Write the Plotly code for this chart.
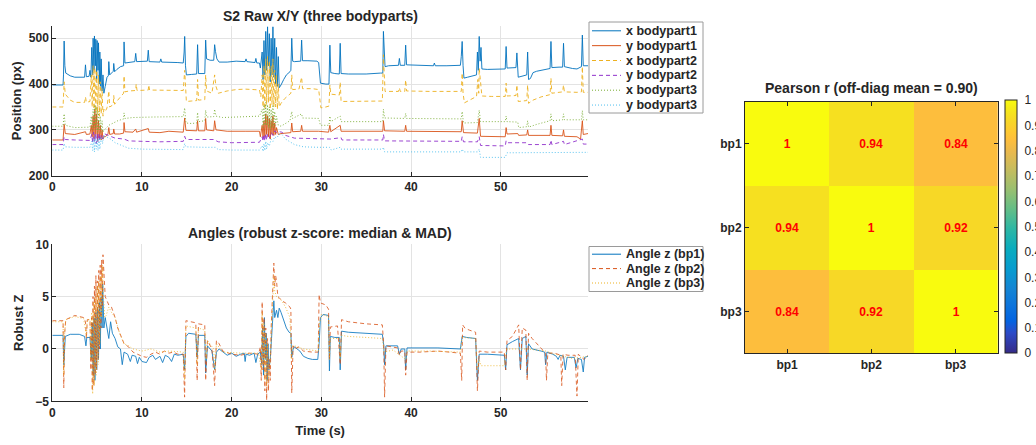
import plotly.graph_objects as go

FONT = "Liberation Sans, Arial, Helvetica, sans-serif"
INK = "#262626"
GRID = "#E3E3E3"

# ---------------- data: top panel (time s, position px) ----------------
X_BP1 = [(0, 398), (1.2, 398), (1.25, 420), (1.32, 494), (1.4, 440), (1.5, 424), (2.0, 418), (2.5, 415),
         (3.6, 415), (3.7, 442), (3.8, 416), (4.1, 417), (4.2, 430), (4.3, 415),
         (4.4, 480), (4.5, 420), (4.55, 500), (4.65, 430), (4.7, 505), (4.8, 440), (4.85, 498), (4.95, 410),
         (5.0, 495), (5.1, 430), (5.15, 490), (5.25, 400), (5.3, 470), (5.4, 395), (5.45, 455), (5.55, 385),
         (5.65, 420), (5.75, 380), (5.9, 395), (6.1, 415), (6.25, 418), (6.3, 449), (6.4, 420), (6.6, 424),
         (6.8, 428), (6.85, 445), (6.95, 427), (7.2, 432), (7.6, 438), (7.95, 440), (8.0, 492), (8.1, 446),
         (8.5, 447), (9.2, 449), (9.3, 467), (9.4, 449), (10.6, 450), (10.7, 474), (10.8, 449), (12.0, 448),
         (12.1, 455), (12.2, 448), (14.0, 447), (14.6, 446), (14.7, 470), (14.76, 504), (14.85, 440),
         (14.95, 420), (15.5, 421), (16.1, 422), (16.2, 486), (16.3, 423), (17.0, 423), (17.1, 496),
         (17.2, 455), (17.6, 452), (18.0, 452), (18.1, 486), (18.2, 471), (18.35, 455), (18.6, 448),
         (19.5, 448), (20.5, 450), (21.5, 449), (21.6, 455), (21.7, 449), (22.6, 447), (22.7, 456),
         (22.8, 446), (23.1, 446), (23.2, 435), (23.3, 450),
         (23.4, 470), (23.5, 410), (23.6, 495), (23.7, 420), (23.8, 515), (23.9, 430), (24.0, 525),
         (24.1, 440), (24.2, 510), (24.3, 405), (24.4, 500), (24.5, 420), (24.6, 525), (24.7, 415),
         (24.8, 500), (24.9, 400), (25.0, 480), (25.1, 395), (25.2, 460), (25.3, 392),
         (25.5, 398), (25.8, 410), (26.1, 420), (26.5, 427), (26.6, 430), (26.7, 500), (26.8, 450),
         (27.0, 449), (27.7, 450), (27.8, 496), (27.9, 451), (28.5, 451), (29.5, 450), (29.7, 447),
         (29.8, 420), (29.9, 402), (30.5, 400), (30.85, 400), (30.95, 485), (31.05, 425), (31.5, 423),
         (32.0, 422), (32.1, 489), (32.2, 423), (33.0, 422), (35.0, 422), (36.6, 424), (36.85, 424),
         (36.92, 515), (37.0, 460), (37.1, 438), (37.5, 440), (38.6, 441), (38.7, 456), (38.8, 441),
         (39.3, 441), (39.4, 485), (39.5, 442), (40.5, 441), (42.5, 440), (42.6, 446), (42.7, 440),
         (44.0, 440), (45.5, 441), (45.6, 460), (45.7, 493), (45.8, 440), (45.9, 413), (46.3, 415),
         (47.0, 418), (47.3, 420), (47.4, 470), (47.5, 430), (47.6, 504), (47.7, 450), (47.8, 480),
         (47.9, 433), (48.5, 432), (49.5, 432), (50.5, 433), (50.6, 482), (50.7, 435), (51.7, 436),
         (51.8, 468), (51.95, 415), (52.5, 418), (52.9, 420), (53.0, 470), (53.1, 410), (53.3, 412),
         (53.6, 425), (54.0, 428), (54.5, 430), (55.0, 433), (55.5, 434), (55.6, 493), (55.7, 436),
         (56.5, 437), (56.9, 437), (57.0, 489), (57.1, 438), (58.0, 434), (58.5, 433), (59.0, 438),
         (59.1, 507), (59.2, 440), (59.73, 440)]

Y_BP1 = [(0, 278), (1.2, 278), (1.32, 312), (1.45, 292), (2.5, 290), (3.7, 296), (3.8, 290), (4.2, 291),
         (4.35, 310), (4.45, 285), (4.55, 330), (4.65, 280), (4.75, 345), (4.85, 290), (4.95, 335),
         (5.05, 275), (5.15, 320), (5.25, 280), (5.35, 310), (5.45, 278), (5.55, 300), (5.65, 280),
         (5.75, 285), (5.9, 285), (6.2, 290), (6.3, 305), (6.4, 290), (6.8, 292), (6.85, 302), (6.95, 291),
         (7.5, 291), (7.95, 293), (8.0, 316), (8.1, 296), (9.0, 295), (9.3, 302), (9.4, 295), (10.7, 303),
         (10.8, 295), (12.0, 294), (13.0, 297), (14.6, 295), (14.76, 326), (14.9, 299), (16.1, 298),
         (16.2, 320), (16.3, 298), (17.0, 298), (17.1, 325), (17.2, 300), (18.0, 298), (18.1, 320),
         (18.25, 300), (19.5, 297), (21.5, 297), (23.1, 297), (23.2, 285),
         (23.4, 310), (23.5, 283), (23.6, 320), (23.7, 285), (23.8, 335), (23.9, 290), (24.0, 330),
         (24.1, 285), (24.2, 325), (24.3, 280), (24.4, 320), (24.5, 290), (24.6, 330), (24.7, 288),
         (24.8, 315), (24.9, 290), (25.0, 305), (25.2, 290),
         (25.5, 292), (26.6, 294), (26.7, 315), (26.8, 296), (27.7, 297), (27.8, 310), (27.9, 297),
         (29.7, 297), (30.8, 295), (30.95, 310), (31.05, 296), (32.1, 310), (32.2, 297), (36.85, 297),
         (36.92, 320), (37.05, 298), (39.3, 297), (39.4, 310), (39.5, 297), (45.6, 296), (45.7, 320),
         (45.85, 294), (47.4, 293), (47.6, 325), (47.75, 286), (50.5, 285), (50.6, 305), (50.7, 291),
         (51.9, 292), (52.0, 288), (52.9, 289), (53.0, 300), (53.1, 288), (55.5, 288), (55.6, 310),
         (55.7, 288), (56.9, 287), (57.0, 300), (57.1, 286), (58.5, 285), (58.9, 280), (59.1, 320),
         (59.2, 290), (59.73, 292)]

X_BP2 = [(0, 350), (1.2, 350), (1.32, 405), (1.45, 378), (2.0, 365), (2.5, 360), (3.6, 360), (3.7, 372),
         (3.8, 360), (4.2, 362),
         (4.35, 420), (4.45, 350), (4.55, 440), (4.65, 345), (4.75, 435), (4.85, 340), (4.95, 430),
         (5.05, 335), (5.15, 420), (5.25, 330), (5.35, 405), (5.45, 335), (5.55, 390), (5.65, 330),
         (5.75, 345), (5.9, 340), (6.1, 348), (6.3, 385), (6.4, 350), (6.8, 355), (6.85, 375), (6.95, 356),
         (7.3, 365), (7.7, 375), (7.95, 380), (8.0, 418), (8.1, 383), (8.6, 385), (9.3, 386), (9.35, 400),
         (9.45, 386), (10.7, 387), (10.75, 398), (10.85, 387), (12.0, 387), (14.0, 387), (14.6, 386),
         (14.76, 430), (14.85, 380), (14.95, 362), (15.5, 363), (16.1, 364), (16.2, 410), (16.3, 365),
         (17.0, 366), (17.1, 420), (17.2, 385), (17.8, 380), (18.1, 420), (18.25, 395), (18.5, 380),
         (19.5, 385), (20.5, 388), (21.5, 389), (22.5, 388), (23.1, 387), (23.25, 372),
         (23.4, 420), (23.5, 350), (23.6, 440), (23.7, 345), (23.8, 455), (23.9, 355), (24.0, 460),
         (24.1, 360), (24.2, 450), (24.3, 345), (24.4, 440), (24.5, 355), (24.6, 455), (24.7, 350),
         (24.8, 430), (24.9, 350), (25.0, 420), (25.1, 345), (25.2, 400), (25.3, 350),
         (25.5, 358), (25.9, 368), (26.4, 378), (26.6, 380), (26.7, 420), (26.8, 388), (27.5, 389),
         (27.8, 415), (27.9, 390), (29.0, 390), (29.7, 388), (29.8, 370), (29.95, 348), (30.5, 350),
         (30.85, 352), (30.95, 398), (31.05, 378), (32.0, 376), (32.1, 404), (32.2, 362), (34.0, 362),
         (36.8, 363), (36.92, 464), (37.0, 400), (37.1, 384), (38.6, 384), (38.7, 392), (38.8, 384),
         (39.3, 384), (39.4, 409), (39.5, 385), (42.0, 384), (45.6, 384), (45.7, 424), (45.8, 380),
         (45.95, 359), (46.5, 365), (47.3, 373), (47.45, 410), (47.55, 380), (47.6, 435), (47.75, 400),
         (47.9, 374), (49.0, 373), (50.5, 373), (50.6, 402), (50.7, 374), (51.7, 375), (51.8, 398),
         (51.95, 362), (52.9, 364), (53.0, 398), (53.1, 358), (53.6, 365), (54.5, 372), (55.5, 377),
         (55.6, 413), (55.7, 380), (56.9, 383), (57.0, 398), (57.1, 383), (58.5, 382), (59.0, 383),
         (59.1, 438), (59.2, 382), (59.73, 382)]

Y_BP2 = [(0, 268), (1.2, 268), (1.32, 285), (1.45, 279), (2.5, 278), (4.2, 277),
         (4.4, 290), (4.5, 272), (4.6, 295), (4.7, 275), (4.8, 293), (4.9, 270), (5.0, 290), (5.1, 275),
         (5.2, 292), (5.3, 276), (5.45, 288), (5.6, 280), (5.75, 292),
         (6.0, 290), (6.5, 285), (7.0, 282), (8.0, 280), (8.5, 276), (10.0, 275), (12.0, 274), (14.6, 275),
         (14.76, 286), (14.9, 279), (17.0, 280), (18.0, 279), (18.5, 274), (20.0, 272), (23.1, 273),
         (23.4, 285), (23.5, 275), (23.6, 290), (23.7, 276), (23.8, 292), (23.9, 278), (24.0, 290),
         (24.2, 282), (24.4, 295), (24.6, 288), (24.8, 298), (25.0, 294), (25.3, 296),
         (25.6, 295), (26.0, 288), (27.0, 282), (29.7, 280), (31.0, 280), (32.2, 283), (32.3, 278),
         (36.85, 278), (36.92, 290), (37.05, 276), (45.6, 275), (45.7, 285), (45.85, 274), (47.4, 274),
         (47.6, 285), (47.75, 266), (50.5, 265), (50.6, 276), (50.7, 272), (53.0, 272), (53.1, 268),
         (55.5, 268), (55.6, 278), (55.7, 268), (57.0, 275), (57.1, 268), (59.1, 280), (59.2, 269),
         (59.73, 269)]

X_BP3 = [(0, 308), (1.2, 308), (1.32, 335), (1.45, 310), (2.5, 305), (4.2, 306),
         (4.35, 330), (4.45, 300), (4.55, 345), (4.65, 305), (4.75, 355), (4.85, 300), (4.95, 350),
         (5.05, 295), (5.15, 340), (5.25, 300), (5.35, 330), (5.45, 295), (5.55, 320), (5.65, 295),
         (5.75, 300), (5.9, 302), (6.3, 310), (6.8, 315), (7.3, 320), (7.95, 324), (8.0, 337), (8.1, 325),
         (9.0, 327), (11.0, 328), (14.6, 329), (14.76, 348), (14.9, 315), (15.5, 314), (16.1, 315),
         (16.2, 338), (16.3, 318), (17.0, 320), (17.1, 343), (17.2, 328), (18.0, 329), (18.1, 345),
         (18.25, 330), (19.0, 327), (21.0, 329), (23.1, 330),
         (23.4, 345), (23.5, 305), (23.6, 355), (23.7, 310), (23.8, 360), (23.9, 310), (24.0, 355),
         (24.1, 305), (24.2, 350), (24.3, 300), (24.4, 345), (24.5, 305), (24.6, 355), (24.7, 305),
         (24.8, 340), (24.9, 310), (25.0, 330), (25.2, 310),
         (25.5, 308), (26.0, 315), (26.5, 320), (26.7, 340), (26.8, 325), (27.8, 335), (27.9, 326),
         (29.7, 325), (29.9, 310), (30.85, 310), (30.95, 330), (31.05, 318), (32.1, 330), (32.2, 318),
         (36.85, 318), (36.92, 345), (37.05, 326), (39.3, 325), (39.4, 336), (39.5, 325), (45.6, 324),
         (45.7, 340), (45.85, 315), (47.4, 316), (47.6, 343), (47.75, 318), (50.5, 318), (50.6, 330),
         (50.7, 318), (51.9, 317), (52.0, 305), (52.9, 307), (53.0, 320), (53.1, 306), (54.0, 312),
         (55.5, 320), (55.6, 335), (55.7, 320), (56.9, 322), (57.0, 335), (57.1, 322), (59.0, 322),
         (59.1, 342), (59.2, 322), (59.73, 322)]

Y_BP3 = [(0, 256), (1.2, 256), (1.32, 270), (1.45, 263), (2.5, 262), (4.2, 262),
         (4.4, 275), (4.5, 255), (4.6, 282), (4.7, 252), (4.8, 285), (4.9, 258), (5.0, 280), (5.1, 255),
         (5.2, 283), (5.3, 258), (5.45, 285), (5.6, 270), (5.75, 288),
         (6.0, 285), (6.5, 280), (7.0, 272), (8.0, 265), (8.5, 260), (10.0, 258), (14.6, 257),
         (14.76, 270), (14.9, 263), (17.0, 262), (18.2, 262), (18.5, 257), (20.0, 256), (23.1, 256),
         (23.4, 265), (23.5, 253), (23.6, 270), (23.7, 255), (23.8, 275), (23.9, 258), (24.0, 272),
         (24.2, 265), (24.4, 280), (24.6, 275), (24.8, 285), (25.0, 282), (25.3, 290),
         (25.6, 290), (26.0, 280), (27.0, 268), (28.0, 263), (29.7, 262), (30.9, 262), (31.1, 256),
         (32.1, 262), (32.2, 258), (36.85, 258), (36.92, 262), (37.05, 252), (45.6, 252), (45.7, 258),
         (45.85, 252), (47.4, 252), (47.6, 258), (47.75, 240), (50.5, 240), (50.6, 248), (50.7, 250),
         (59.73, 251)]

# ---------------- data: bottom panel (time s, robust z) ----------------
ANG_BP1 = [(0, 1.3), (1.2, 1.3), (1.28, -1.5), (1.36, 0.5), (1.45, 1.2), (2.0, 1.4), (3.0, 1.4), (3.6, 1.2),
           (3.75, 0.3), (3.85, 1.1), (4.2, 1.1),
           (4.35, -1.0), (4.45, 2.5), (4.55, -2.5), (4.65, 3.0), (4.75, -3.0), (4.85, 3.5), (4.95, -2.0),
           (5.05, 4.0), (5.15, -1.0), (5.25, 4.5), (5.35, 0.0), (5.45, 5.0), (5.55, 2.0), (5.62, 6.2),
           (5.75, 2.0), (5.9, 3.0), (6.1, 2.0), (6.3, 1.0), (6.5, 2.6), (6.7, 1.5), (7.0, 1.0), (7.3, 0.2),
           (7.6, 0.0), (7.8, -1.5), (8.0, -0.3), (8.4, -0.5), (8.7, -1.2), (8.9, -0.6), (9.3, -0.7),
           (9.5, -1.4), (9.7, -0.8), (10.0, -1.2), (10.5, -1.3), (10.8, -0.8), (11.2, -0.6), (11.5, -1.0),
           (12.0, -0.7), (12.3, -1.3), (12.6, -0.6), (13.0, -0.8), (13.3, -1.2), (13.6, -0.5), (14.0, -0.6),
           (14.6, -0.5), (14.75, -2.0), (14.9, 1.2), (15.2, 1.5), (16.0, 1.4), (16.15, -0.8), (16.3, 1.3),
           (17.0, 1.3), (17.1, -2.3), (17.3, 0.3), (17.8, -0.2), (18.1, -2.0), (18.3, -0.3), (18.6, 0.0),
           (19.0, -0.3), (19.5, -0.6), (20.0, -0.4), (20.5, -0.7), (21.0, -0.5), (21.4, -0.4), (21.5, -1.2),
           (21.6, -0.5), (22.0, -0.6), (22.5, -0.4), (22.7, -1.3), (22.9, -0.5), (23.2, -0.3),
           (23.35, -1.5), (23.45, 2.0), (23.55, -2.5), (23.65, 3.0), (23.75, -1.0), (23.85, 1.5),
           (23.95, -3.0), (24.05, 0.5), (24.15, -2.0), (24.3, -1.0), (24.45, 1.0), (24.6, 2.5), (24.7, 4.6),
           (24.8, 3.0), (24.9, 3.5), (25.0, 3.7), (25.15, 3.0), (25.3, 3.9), (25.5, 3.5),
           (25.8, 2.8), (26.1, 2.0), (26.4, 1.6), (26.6, 1.5), (26.7, -0.8), (26.85, 0.0), (27.0, 0.2),
           (27.3, 0.0), (27.6, -0.2), (28.0, -0.7), (28.5, -0.9), (29.0, -1.0), (29.6, -1.0), (29.75, 0.5),
           (29.9, 3.0), (30.2, 3.3), (30.8, 3.2), (30.9, -2.1), (31.0, 1.2), (31.5, 1.1), (32.0, 1.1),
           (32.1, -2.0), (32.25, 1.7), (33.0, 1.6), (35.0, 1.5), (36.8, 1.4), (36.95, 0.4), (37.05, -1.5),
           (37.2, 0.3), (38.5, 0.3), (38.7, -0.5), (38.9, 0.0), (39.3, 0.0), (39.4, -2.0), (39.55, 0.1),
           (41.0, 0.1), (43.0, 0.1), (45.5, 0.0), (45.7, 1.2), (46.2, 1.1), (47.2, 1.0), (47.4, -3.0),
           (47.6, -0.5), (48.5, -0.5), (50.4, -0.6), (50.55, -2.0), (50.7, 0.4), (51.3, 0.7), (52.0, 1.0),
           (52.2, -2.0), (52.4, 1.0), (52.8, 1.2), (52.95, -2.5), (53.1, 0.5), (53.5, 0.0), (54.5, -0.2),
           (54.9, -0.3), (55.0, -1.5), (55.15, -0.3), (55.8, -0.5), (56.2, -0.7), (56.4, -1.0), (56.6, -0.6),
           (57.0, -0.7), (57.2, -2.0), (57.4, -0.8), (58.2, -0.8), (58.4, -1.8), (58.6, -0.9), (59.0, -1.0),
           (59.2, -2.2), (59.35, -0.8), (59.73, -0.7)]

ANG_BP2 = [(0, 2.7), (1.2, 2.7), (1.28, -3.7), (1.38, 1.5), (1.5, 2.8), (2.5, 3.2), (3.5, 3.0), (3.7, 2.6),
           (3.8, 1.0), (3.9, 2.8), (4.2, 2.8),
           (4.3, -2.0), (4.38, 3.0), (4.46, -4.0), (4.54, 5.0), (4.62, -3.5), (4.7, 6.0), (4.78, -2.5),
           (4.86, 7.0), (4.94, -2.0), (5.02, 6.5), (5.1, -1.0), (5.18, 7.5), (5.26, 0.0), (5.34, 8.0),
           (5.42, 2.0), (5.5, 8.5), (5.58, 4.0), (5.65, 9.0), (5.75, 7.0),
           (5.9, 5.0), (6.1, 4.6), (6.3, 4.2), (6.6, 4.0), (6.8, 3.5), (7.0, 3.0), (7.3, 2.0), (7.6, 1.3),
           (8.0, 0.5), (8.5, 0.2), (9.0, -0.3), (9.5, -0.5), (10.0, -0.7), (10.5, -0.8), (11.0, -0.5),
           (11.5, -0.3), (12.0, -0.5), (12.5, -0.2), (13.0, -0.4), (13.5, -0.3), (14.0, -0.5), (14.6, -0.5),
           (14.75, -4.6), (14.9, 2.7), (15.5, 2.6), (16.0, 2.5), (16.15, -3.0), (16.3, 2.4), (17.0, 2.3),
           (17.1, -3.0), (17.3, 0.8), (17.8, 0.0), (18.1, -3.5), (18.3, 0.8), (18.6, 0.5), (19.0, -0.2),
           (20.0, -0.5), (21.0, -0.6), (22.0, -0.4), (23.0, -0.5), (23.2, 0.2),
           (23.3, -3.0), (23.4, 4.5), (23.5, -2.0), (23.6, 3.0), (23.7, -4.0), (23.8, 2.0), (23.9, -4.9),
           (24.0, 1.0), (24.1, -4.0), (24.2, -1.0), (24.3, -3.0), (24.4, 2.0), (24.5, 4.0), (24.6, 6.0),
           (24.7, 8.2), (24.8, 6.0), (24.9, 7.0), (25.0, 6.5), (25.15, 5.0), (25.3, 4.9),
           (25.6, 4.6), (26.0, 4.4), (26.5, 4.0), (26.6, 3.8), (26.7, -4.2), (26.85, 0.3), (27.0, 0.0),
           (27.5, 0.2), (28.0, -0.2), (29.0, -0.3), (29.65, -0.3), (29.75, 5.2), (29.9, 4.4), (30.5, 4.2),
           (30.8, 3.8), (30.9, -1.0), (31.0, 2.1), (31.8, 2.2), (32.1, -1.5), (32.25, 2.8), (33.0, 2.6),
           (35.0, 2.4), (36.8, 2.3), (36.95, 0.4), (37.05, -4.6), (37.2, 0.3), (38.0, 0.2), (38.5, 0.1),
           (38.7, -0.6), (38.9, -0.2), (39.3, -0.2), (39.4, -2.5), (39.55, -0.3), (41.0, -0.3), (43.0, -0.2),
           (45.5, -0.4), (45.65, -3.0), (45.75, 2.3), (46.0, 2.0), (46.5, 1.8), (47.2, 1.6), (47.4, -4.0),
           (47.6, -0.2), (48.5, -0.3), (50.4, -0.3), (50.55, -2.0), (50.7, 0.8), (51.3, 1.2), (52.0, 2.3),
           (52.2, -2.0), (52.4, 2.0), (52.8, 1.8), (52.95, -3.0), (53.1, 1.5), (53.5, 1.0), (54.0, 0.5),
           (54.5, 0.0), (55.0, -0.4), (55.1, -3.0), (55.25, -0.4), (56.0, -0.4), (56.7, -0.6), (56.8, -3.5),
           (56.95, -0.5), (57.5, -0.6), (58.3, -0.6), (58.5, -4.5), (58.65, -0.5), (59.0, -0.8), (59.3, -1.0),
           (59.73, -0.6)]

ANG_BP3 = [(0, 2.6), (1.2, 2.6), (1.28, -2.5), (1.38, 1.5), (1.5, 2.8), (2.5, 3.1), (3.5, 2.9), (3.8, 1.2),
           (3.9, 2.8), (4.2, 2.8),
           (4.3, -1.0), (4.4, 3.5), (4.5, -4.3), (4.6, 4.5), (4.7, -3.5), (4.8, 5.0), (4.9, -2.5), (5.0, 6.0),
           (5.1, -1.5), (5.2, 6.5), (5.3, 0.5), (5.4, 7.0), (5.5, 3.0), (5.6, 8.0), (5.7, 5.0),
           (5.85, 3.0), (6.0, 3.2), (6.3, 4.0), (6.6, 3.5), (7.0, 3.0), (7.5, 1.5), (8.0, 0.5), (8.5, 0.3),
           (9.0, 0.0), (10.0, -0.2), (11.0, 0.0), (12.0, -0.3), (13.0, -0.2), (14.6, -0.3), (14.75, -3.0),
           (14.9, 2.2), (16.0, 2.0), (16.15, -1.5), (16.3, 2.0), (17.0, 1.8), (17.15, -1.0), (17.3, 0.8),
           (18.0, 0.0), (18.1, -2.0), (18.3, 0.5), (19.0, -0.3), (21.0, -0.4), (23.0, -0.4),
           (23.3, -2.0), (23.4, 3.5), (23.5, -1.5), (23.6, 2.5), (23.7, -3.0), (23.8, 1.5), (23.9, -3.5),
           (24.0, 0.5), (24.1, -3.0), (24.3, -1.0), (24.5, 3.0), (24.6, 5.0), (24.7, 7.0), (24.8, 5.5),
           (25.0, 5.0), (25.3, 4.8),
           (25.6, 4.6), (26.0, 4.0), (26.5, 3.0), (26.65, -1.0), (26.8, 0.3), (27.0, 0.3), (28.0, 0.0),
           (29.65, -0.2), (29.8, 2.5), (30.0, 3.3), (30.8, 3.1), (30.9, -1.0), (31.0, 1.0), (32.0, 1.0),
           (32.1, -1.0), (32.25, 1.3), (33.0, 1.2), (35.0, 1.1), (36.8, 1.0), (37.0, -0.3), (38.0, -0.1),
           (39.4, -1.0), (39.55, -0.2), (42.0, -0.2), (45.5, -0.3), (45.7, 1.1), (47.2, 1.0), (47.4, -2.0),
           (47.6, -1.0), (47.8, -1.6), (50.4, -1.6), (50.55, -0.5), (50.7, 0.0), (53.0, 0.0), (55.0, -0.2),
           (56.0, -0.5), (57.0, -0.7), (58.0, -0.9), (59.0, -0.8), (59.73, -0.7)]

# ---------------- data: correlation matrix ----------------
BP_LABELS = ["bp1", "bp2", "bp3"]
PEARSON_R = [[1.00, 0.94, 0.84],
             [0.94, 1.00, 0.92],
             [0.84, 0.92, 1.00]]
OFFDIAG_MEAN = 0.90
CBAR_TICKS = [0, 0.1, 0.2, 0.3, 0.4, 0.5, 0.6, 0.7, 0.8, 0.9, 1]
TOP_XTICKS = [0, 10, 20, 30, 40, 50]
TOP_YTICKS = [200, 300, 400, 500]
BOT_YTICKS = [-5, 0, 5, 10]

PARULA = [[0.000, "rgb(53,42,135)"], [0.079, "rgb(44,74,199)"], [0.127, "rgb(3,99,225)"],
          [0.190, "rgb(13,117,220)"], [0.254, "rgb(20,133,212)"], [0.333, "rgb(7,156,207)"],
          [0.413, "rgb(10,172,190)"], [0.492, "rgb(46,183,164)"], [0.571, "rgb(101,190,134)"],
          [0.651, "rgb(156,191,111)"], [0.730, "rgb(200,188,93)"], [0.794, "rgb(233,185,78)"],
          [0.841, "rgb(253,190,61)"], [0.873, "rgb(254,200,50)"], [0.921, "rgb(247,216,38)"],
          [0.968, "rgb(245,235,24)"], [1.000, "rgb(249,251,14)"]]

W, H = 1036, 445
DASH = "4px,3px"
DOT = "1px,2px"

TOP_SERIES = [("x bodypart1", X_BP1, "#0072BD", "solid"),
              ("y bodypart1", Y_BP1, "#D95319", "solid"),
              ("x bodypart2", X_BP2, "#EDB120", DASH),
              ("y bodypart2", Y_BP2, "#9132CC", DASH),
              ("x bodypart3", X_BP3, "#77AC30", DOT),
              ("y bodypart3", Y_BP3, "#4DBEEE", DOT)]
BOT_SERIES = [("Angle z (bp1)", ANG_BP1, "#0072BD", "solid"),
              ("Angle z (bp2)", ANG_BP2, "#D95319", DASH),
              ("Angle z (bp3)", ANG_BP3, "#EDB120", DOT)]


def px_x(p):
    return p / W


def px_y(p):
    return 1 - p / H


fig = go.Figure()

for name, pts, color, dash in TOP_SERIES:
    fig.add_trace(go.Scatter(x=[p[0] for p in pts], y=[p[1] for p in pts], mode="lines", name=name,
                             line=dict(color=color, width=0.9, dash=dash), xaxis="x", yaxis="y",
                             showlegend=False))
for name, pts, color, dash in BOT_SERIES:
    fig.add_trace(go.Scatter(x=[p[0] for p in pts], y=[p[1] for p in pts], mode="lines", name=name,
                             line=dict(color=color, width=0.9, dash=dash), opacity=0.9,
                             xaxis="x2", yaxis="y2", showlegend=False))

fig.add_trace(go.Heatmap(
    z=PEARSON_R, x=BP_LABELS, y=BP_LABELS, zmin=0, zmax=1, colorscale=PARULA,
    text=[[f"{v:g}" for v in row] for row in PEARSON_R], texttemplate="%{text}",
    textfont=dict(family=FONT, size=12, color="#FF0000", weight="bold"),
    xaxis="x3", yaxis="y3", showlegend=False,
    colorbar=dict(x=px_x(1005), xanchor="left", xpad=0, ypad=0,
                  y=px_y(226.7), yanchor="middle", len=253.3 / H, lenmode="fraction",
                  thickness=12, thicknessmode="pixels", outlinewidth=1, outlinecolor=INK,
                  tickvals=CBAR_TICKS, ticktext=[f"{v:g}" for v in CBAR_TICKS],
                  ticks="outside", ticklen=5, tickcolor="rgba(0,0,0,0)",
                  tickfont=dict(family=FONT, size=12, color=INK))))

# ---- MATLAB-style legends (compact rows), drawn from the series specs ----
shapes = []
annotations = []


def draw_legend(series, box_top, box_bottom, row0, step):
    shapes.append(dict(type="rect", xref="paper", yref="paper", x0=px_x(589), x1=px_x(703),
                       y0=px_y(box_bottom), y1=px_y(box_top), line=dict(color="#9A9A9A", width=1),
                       fillcolor="white", layer="above"))
    for i, (name, _pts, color, dash) in enumerate(series):
        yy = px_y(row0 + i * step)
        shapes.append(dict(type="line", xref="paper", yref="paper", x0=px_x(592), x1=px_x(621),
                           y0=yy, y1=yy, line=dict(color=color, width=1, dash=dash), layer="above"))
        annotations.append(dict(text=name, x=px_x(624), y=yy, xref="paper", yref="paper",
                                showarrow=False, xanchor="left", yanchor="middle",
                                font=dict(family=FONT, size=12.5, color=INK, weight="bold")))


draw_legend(TOP_SERIES, 22, 113, 30.8, 14.85)
draw_legend(BOT_SERIES, 246.5, 291.5, 254.2, 14.4)

titlefont14 = dict(family=FONT, size=14, color=INK, weight="bold")
annotations += [
    dict(text="S2 Raw X/Y (three bodyparts)", x=px_x(320), y=px_y(16), xref="paper", yref="paper",
         showarrow=False, xanchor="center", yanchor="middle", font=titlefont14),
    dict(text="Angles (robust z-score: median & MAD)", x=px_x(320), y=px_y(233), xref="paper",
         yref="paper", showarrow=False, xanchor="center", yanchor="middle", font=titlefont14),
    dict(text=f"Pearson r (off-diag mean = {OFFDIAG_MEAN:.2f})", x=px_x(871), y=px_y(88),
         xref="paper", yref="paper", showarrow=False, xanchor="center", yanchor="middle",
         font=titlefont14),
]

tickfont = dict(family=FONT, size=12, color=INK, weight="bold")
titlefont = dict(family=FONT, size=13, color=INK, weight="bold")
common = dict(showline=True, linecolor=INK, linewidth=1, ticks="inside", ticklen=4, tickcolor=INK,
              tickfont=tickfont, zeroline=False)

X_DOM = [px_x(52.3), px_x(588)]

fig.update_layout(
    width=W, height=H, paper_bgcolor="white", plot_bgcolor="white",
    margin=dict(l=0, r=0, t=0, b=0, autoexpand=False),
    font=dict(family=FONT, color=INK),
    showlegend=False,
    xaxis=dict(domain=X_DOM, anchor="y", range=[0, 59.73], tickvals=TOP_XTICKS,
               showgrid=True, gridcolor=GRID, **common),
    yaxis=dict(domain=[px_y(175.7), px_y(25.9)], anchor="x", range=[200, 527], tickvals=TOP_YTICKS,
               showgrid=True, gridcolor=GRID,
               title=dict(text="Position (px)", font=titlefont, standoff=4), **common),
    xaxis2=dict(domain=X_DOM, anchor="y2", range=[0, 59.73], tickvals=TOP_XTICKS,
                showgrid=True, gridcolor=GRID,
                title=dict(text="Time (s)", font=titlefont, standoff=7), **common),
    yaxis2=dict(domain=[px_y(401.3), px_y(244.3)], anchor="x2", range=[-5, 10], tickvals=BOT_YTICKS,
                showgrid=True, gridcolor=GRID,
                title=dict(text="Robust Z", font=titlefont, standoff=8), **common),
    xaxis3=dict(domain=[px_x(745), px_x(997.7)], anchor="y3", showgrid=False, mirror="ticks",
                **common),
    yaxis3=dict(domain=[px_y(353.3), px_y(101.7)], anchor="x3", showgrid=False, mirror="ticks",
                autorange="reversed", **common),
    shapes=shapes,
    annotations=annotations,
)

fig.write_html("out.html")
